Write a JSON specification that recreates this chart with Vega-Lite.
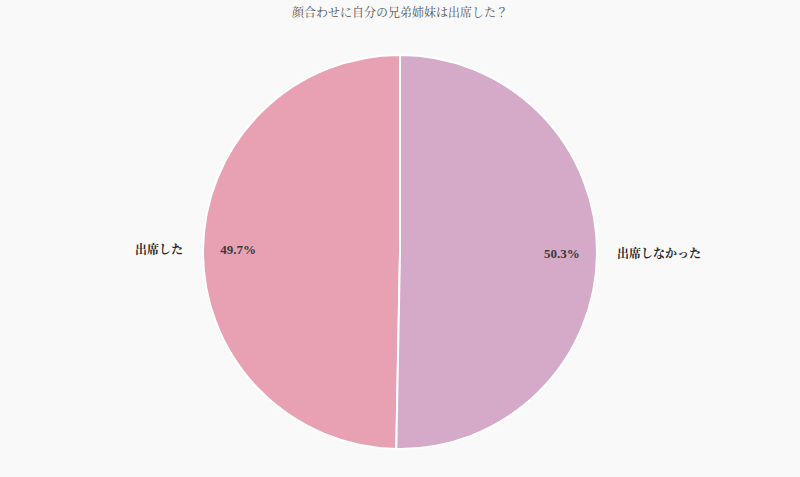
{
  "$schema": "https://vega.github.io/schema/vega-lite/v6.json",
  "width": 800,
  "height": 477,
  "autosize": {"type": "fit", "contains": "padding"},
  "padding": {"top": 7, "left": 0, "right": 0, "bottom": 0},
  "background": "#f9f9f9",
  "title": {
    "text": "顔合わせに自分の兄弟姉妹は出席した？",
    "font": "Liberation Serif, Noto Serif CJK JP, Noto Sans CJK JP",
    "fontSize": 12,
    "fontWeight": "normal",
    "color": "#555555",
    "offset": 7,
    "anchor": "middle"
  },
  "data": {
    "values": [
      {"category": "出席した", "share": 0.497},
      {"category": "出席しなかった", "share": 0.503}
    ]
  },
  "encoding": {
    "theta": {"field": "share", "type": "quantitative", "stack": true},
    "order": {"field": "category", "sort": "descending"},
    "color": {
      "field": "category",
      "type": "nominal",
      "scale": {"domain": ["出席した", "出席しなかった"], "range": ["#e8a1b2", "#d5a9c8"]},
      "legend": null
    }
  },
  "layer": [
    {"mark": {"type": "arc", "outerRadius": 197, "stroke": "#ffffff", "strokeWidth": 2}},
    {
      "mark": {"type": "text", "radius": 162, "fontSize": 13, "fontWeight": "bold", "font": "Liberation Serif, Noto Serif CJK JP, Noto Sans CJK JP"},
      "encoding": {"text": {"field": "share", "type": "quantitative", "format": ".1%"}, "color": {"value": "#3a3a3a"}}
    },
    {
      "mark": {
        "type": "text",
        "radius": 217,
        "fontSize": 12,
        "fontWeight": "bold",
        "font": "Liberation Serif, Noto Serif CJK JP, Noto Sans CJK JP",
        "align": {"expr": "datum.category === '出席した' ? 'right' : 'left'"}
      },
      "encoding": {"text": {"field": "category"}, "color": {"value": "#2a2a2a"}}
    }
  ],
  "config": {"view": {"stroke": null}}
}
